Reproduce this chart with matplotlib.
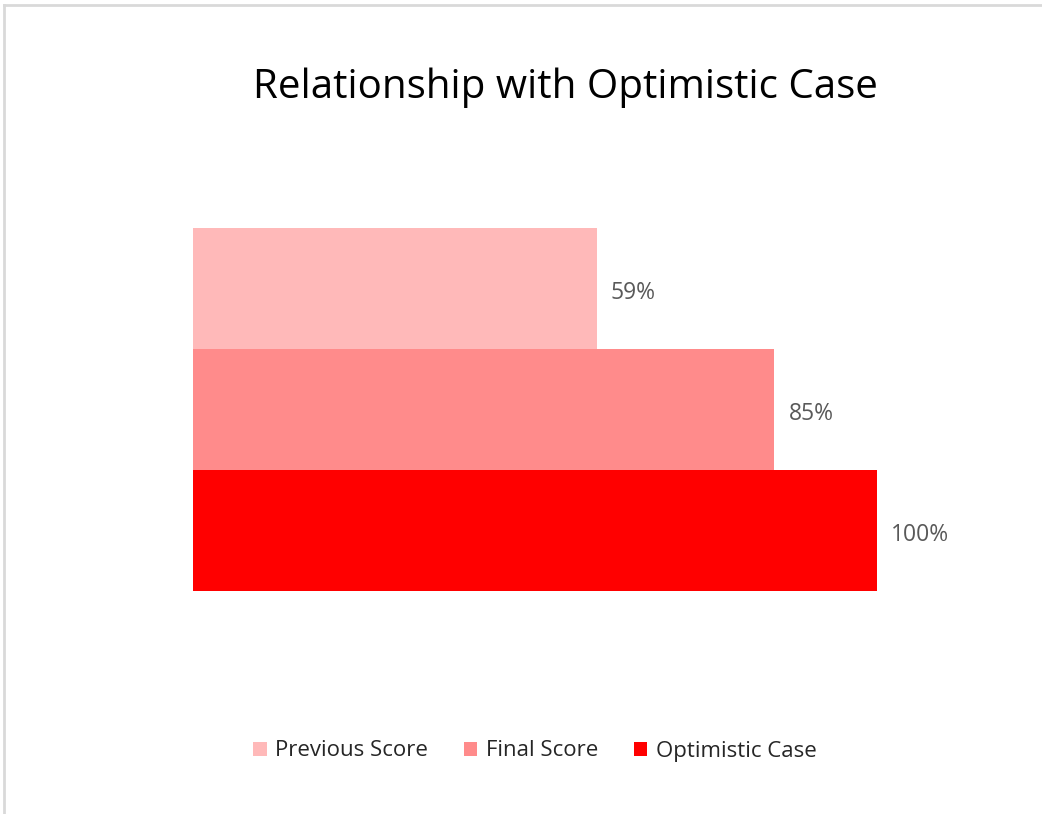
import matplotlib.pyplot as plt
from matplotlib.lines import Line2D
from matplotlib.patches import Patch

series = ["Previous Score", "Final Score", "Optimistic Case"]
values = [0.59, 0.85, 1.00]
labels = ["59%", "85%", "100%"]
colors = ["#FFB9B9", "#FF8B8B", "#FF0000"]

plt.rcParams['font.family'] = ['Open Sans', 'DejaVu Sans']

fig = plt.figure(figsize=(10.42, 8.14), dpi=100)
ax = fig.add_axes([193 / 1042, (814 - 591) / 814, 684 / 1042, 363 / 814])

# top bar is the first series
ypos = [2, 1, 0]
for y, v, c, lab in zip(ypos, values, colors, labels):
    ax.barh(y, v, height=1.0, color=c)
    ax.text(v + 0.021, y - 0.04, lab, va="center", ha="left", fontsize=16.5, color="#595959")

ax.set_xlim(0, 1)
ax.set_ylim(-0.5, 2.5)
ax.axis("off")

fig.text(565 / 1042, 1 - 88 / 814, "Relationship with Optimistic Case",
         ha="center", va="center", fontsize=29, color="#000000")

handles = [Patch(facecolor=c, edgecolor="none") for c in colors]
fig.legend(handles, series, loc="center", bbox_to_anchor=(535 / 1042, 1 - 751 / 814),
           ncol=3, frameon=False, fontsize=16, handlelength=0.6, handleheight=0.6,
           handletextpad=0.4, columnspacing=1.6, labelcolor="#262626")

# chart border (top and left visible)
fig.add_artist(Line2D([4 / 1042, 1], [1 - 5 / 814, 1 - 5 / 814], color="#D9D9D9", lw=2))
fig.add_artist(Line2D([4 / 1042, 4 / 1042], [0, 1 - 5 / 814], color="#D9D9D9", lw=2))

fig.savefig("out.png", dpi=100)
